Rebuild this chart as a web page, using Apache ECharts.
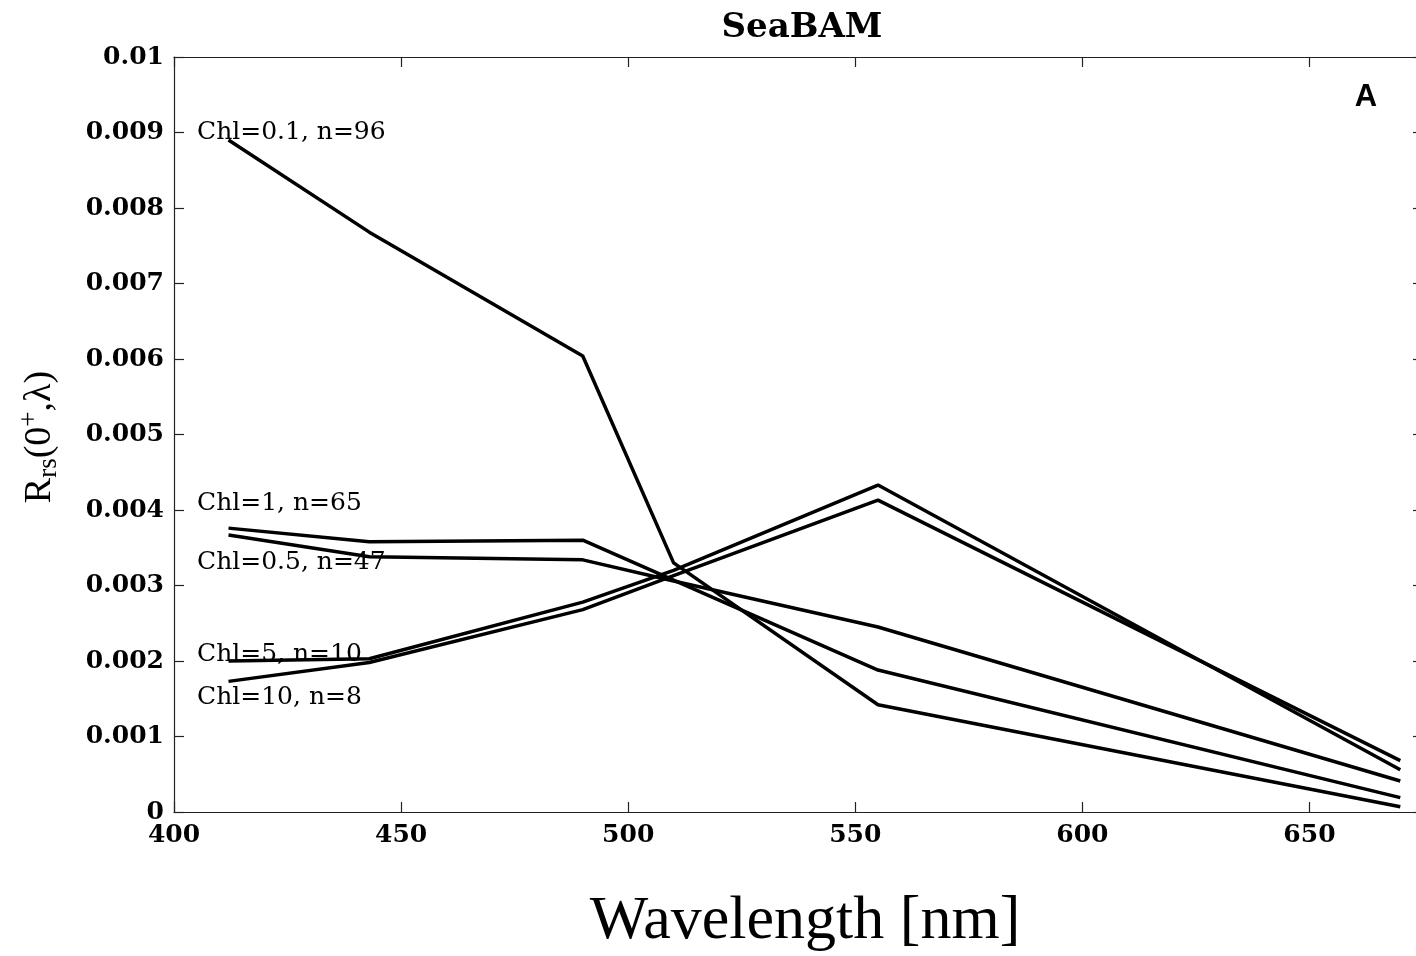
<!DOCTYPE html>
<html>
<head>
<meta charset="utf-8">
<script src="https://cdn.jsdelivr.net/npm/echarts@6/dist/echarts.min.js"></script>
<style>
html,body{margin:0;padding:0;background:#fff;overflow:hidden;}
#chart{width:1423px;height:956px;}
</style>
</head>
<body>
<div id="chart"></div>
<script>
const wavelengths = [412, 443, 490, 510, 555, 670];
const chl01 = [0.00890, 0.00768, 0.00604, 0.00330, 0.00142, 0.00007];
const chl05 = [0.00367, 0.00338, 0.00334, 0.00306, 0.00245, 0.00041];
const chl1  = [0.00376, 0.00358, 0.00360, 0.00307, 0.00188, 0.00019];
const chl5  = [0.00200, 0.00203, 0.00278, 0.00320, 0.00433, 0.00056];
const chl10 = [0.00173, 0.00198, 0.00268, 0.00313, 0.00413, 0.00068];
const seriesNames = ['Chl=0.1, n=96', 'Chl=1, n=65', 'Chl=0.5, n=47', 'Chl=5, n=10', 'Chl=10, n=8'];
const seriesValues = [chl01, chl1, chl05, chl5, chl10];
const yTickLabels = ['0','0.001','0.002','0.003','0.004','0.005','0.006','0.007','0.008','0.009','0.01'];
const xTickLabels = ['400','450','500','550','600','650'];

const chart = echarts.init(document.getElementById('chart'));
const tickFont = {fontFamily: 'DejaVu Serif', fontWeight: 'bold', fontSize: 25, color: '#000'};
const axisLineStyle = {show: true, onZero: false, lineStyle: {color: '#222', width: 1.2}};
const tickStyle = {show: true, inside: true, length: 10, lineStyle: {color: '#222', width: 1.2}};

const labelPos = [133, 504, 563, 655, 698];

const option = {
  backgroundColor: '#fff',
  animation: false,
  title: {
    text: 'SeaBAM', left: 797, top: 6, textAlign: 'center',
    textStyle: {fontFamily: 'DejaVu Serif', fontWeight: 'bold', fontSize: 34, color: '#000'}
  },
  grid: {left: 174, top: 57, right: 0, bottom: 144, containLabel: false},
  xAxis: [
    {type: 'value', min: 400, max: 675, interval: 50, position: 'bottom',
     axisLine: axisLineStyle, axisTick: tickStyle, splitLine: {show: false},
     axisLabel: Object.assign({margin: 11, formatter: v => xTickLabels[Math.round((v - 400) / 50)] || '', showMaxLabel: false}, tickFont)},
    {type: 'value', min: 400, max: 675, interval: 50, position: 'top',
     axisLine: axisLineStyle, axisTick: tickStyle, splitLine: {show: false}, axisLabel: {show: false}}
  ],
  yAxis: [
    {type: 'value', min: 0, max: 0.01, interval: 0.001, position: 'left',
     axisLine: axisLineStyle, axisTick: tickStyle, splitLine: {show: false},
     axisLabel: Object.assign({margin: 10, formatter: v => yTickLabels[Math.round(v * 1000)]}, tickFont)},
    {type: 'value', min: 0, max: 0.01, interval: 0.001, position: 'right',
     axisLine: axisLineStyle, axisTick: tickStyle, splitLine: {show: false}, axisLabel: {show: false}}
  ],
  series: seriesValues.map((vals, i) => ({
    name: seriesNames[i], type: 'line', xAxisIndex: 0, yAxisIndex: 0,
    data: wavelengths.map((w, j) => [w, vals[j]]),
    showSymbol: false, symbol: 'none', smooth: false,
    lineStyle: {color: '#000', width: 3.5}
  })),
  graphic: [
    ...seriesNames.map((n, i) => ({
      type: 'text', left: 197, top: labelPos[i] - 13,
      style: {text: n, fontFamily: 'DejaVu Serif', fontSize: 25, fill: '#000', textVerticalAlign: 'top'}
    })),
    {type: 'text', x: 1366, y: 97,
     style: {text: 'A', fontFamily: 'Liberation Sans', fontWeight: 'bold', fontSize: 31, fill: '#000', textAlign: 'center', textVerticalAlign: 'middle'}},
    {type: 'text', x: 805, y: 922,
     style: {text: 'Wavelength [nm]', fontFamily: 'Liberation Serif', fontSize: 62, fill: '#000', textAlign: 'center', textVerticalAlign: 'middle'}},
    {type: 'text', x: 40, y: 437, rotation: Math.PI / 2,
     style: {
       text: '{m|R}{sub|rs}{m|(0}{sup|+}{m|,λ)}',
       textAlign: 'center', textVerticalAlign: 'middle',
       rich: {
         m: {fontFamily: 'Liberation Serif', fontSize: 38, fill: '#000'},
         sub: {fontFamily: 'Liberation Serif', fontSize: 27, fill: '#000', padding: [18, 0, 0, 0]},
         sup: {fontFamily: 'Liberation Serif', fontSize: 27, fill: '#000', padding: [0, 0, 20, 0]}
       }
     }}
  ]
};
chart.setOption(option);
</script>
</body>
</html>
